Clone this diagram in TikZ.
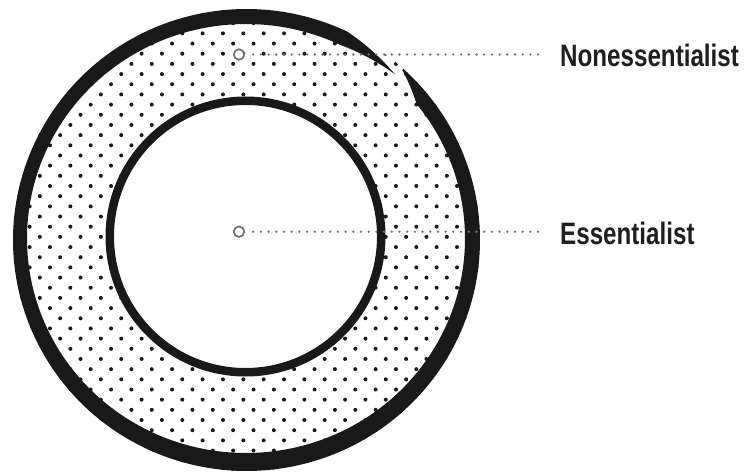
\documentclass[tikz,border=0pt]{standalone}
\usepackage{fontspec}
\newfontfamily\labelfont[FakeStretch=0.78]{Liberation Sans}
\begin{document}
\begin{tikzpicture}[x=1pt,y=1pt,
  declare function={
    ringL(\t)=min(1,(\t-48.4)/16);
    ringR(\t)=min(1,(407.8-\t)/9);
    ringpO(\t)=-0.3+1.3*ringL(\t);
    ringpI(\t)=-1+0.7*(1-ringL(\t))+1.8*(1-ringR(\t));
    ringmx(\t)=246.25+226.25*cos(\t);
    ringmy(\t)=234.75+222.75*sin(\t);
    ringdx(\t)=0.25+7.25*cos(\t);
    ringdy(\t)=-0.75+8.25*sin(\t);
  }]
\tikzset{
  dotfill/.style={fill=black!90},
  ringstroke/.style={fill=black!90},
  innerring/.style={draw=black!90, line width=8.5pt},
  marker/.style={circle, draw=black!55, line width=1.8pt, fill=white, minimum size=10.5pt, inner sep=0pt},
  leader/.style={draw=black!55, line width=2.6pt, line cap=round, dash pattern=on 0pt off 7.7pt, shorten <=8pt, shorten >=18pt},
  lab/.style={font=\labelfont\bfseries\fontsize{31}{36}\selectfont, inner sep=0pt, anchor=base west, text=black!88}
}
\useasboundingbox (0,0) rectangle (746,474);
\fill[white] (0,0) rectangle (746,474);
% dot field
\begin{scope}
  \clip (246.5,234) ellipse [x radius=233.5, y radius=231];
  \foreach \b in {-18,...,28}{
    \pgfmathtruncatemacro\s{mod(\b+100,2)}
    \foreach \k in {-2,...,21}{
      \fill[dotfill] ({50+10.175*(2*\k+\s)},{288-10.175*\b}) circle (2.0);
    }
  }
\end{scope}
% inner circle
\fill[white] (245.5,237.5) circle (135.75);
\draw[innerring] (245.5,237.5) circle (135.75);
% outer brush ring with gap
\fill[ringstroke]
  plot[domain=48.4:407.8, samples=360, variable=\t]
    ({ringmx(\t)+ringpO(\t)*ringdx(\t)},{ringmy(\t)+ringpO(\t)*ringdy(\t)})
  -- plot[domain=407.8:48.4, samples=360, variable=\t]
    ({ringmx(\t)+ringpI(\t)*ringdx(\t)},{ringmy(\t)+ringpI(\t)*ringdy(\t)})
  -- cycle;
% labels and markers
\node[lab] (lab1) at (560,407) {Nonessentialist};
\node[lab] (lab2) at (560,229) {Essentialist};
\node[marker] (m1) at (239,419.5) {};
\node[marker] (m2) at (239,242.3) {};
\draw[leader] (m1.east) -- (m1.east -| lab1.west);
\draw[leader] (m2.east) -- (m2.east -| lab2.west);
\end{tikzpicture}
\end{document}
